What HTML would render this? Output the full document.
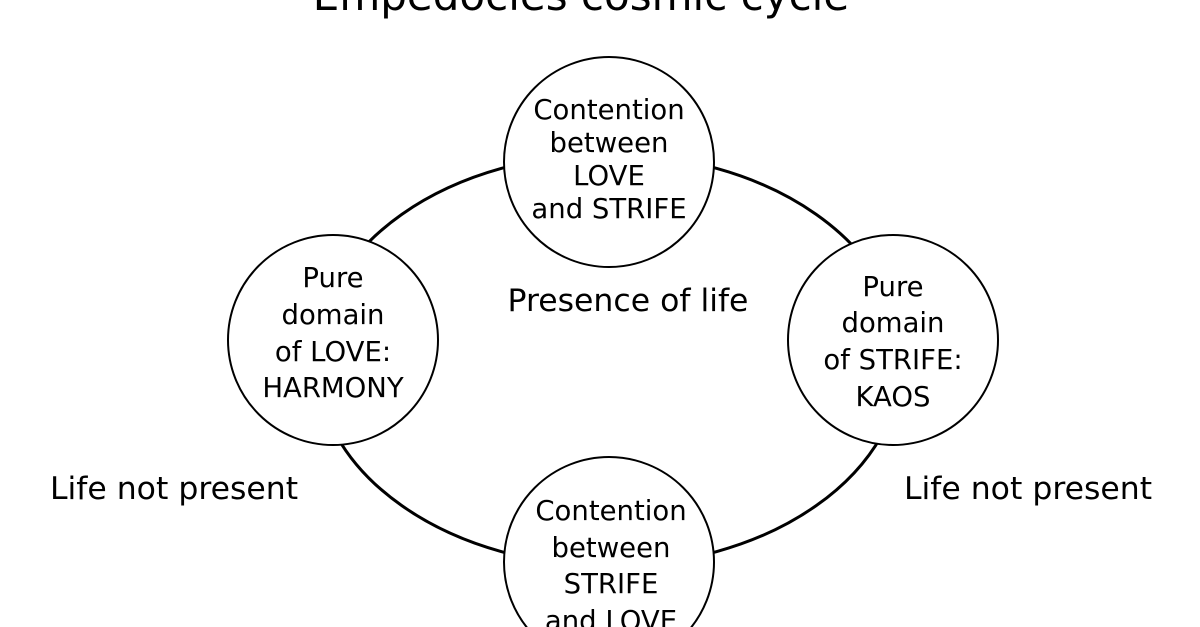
<!DOCTYPE html>
<html><head><meta charset="utf-8"><style>
html,body{margin:0;padding:0;background:#fff;width:1200px;height:627px;overflow:hidden;}
svg{display:block;}
text{font-family:"DejaVu Sans","Liberation Sans",sans-serif;fill:#000;}
</style></head><body>
<svg width="1200" height="627" viewBox="0 0 1200 627" xmlns="http://www.w3.org/2000/svg">
<text x="581" y="10" font-size="42" text-anchor="middle">Empedocles cosmic cycle</text>
<ellipse cx="609" cy="360" rx="293" ry="206" fill="none" stroke="#000" stroke-width="3"/>
<g fill="#fff" stroke="#000" stroke-width="2">
<circle cx="609" cy="162" r="105"/>
<circle cx="333" cy="340" r="105"/>
<circle cx="893" cy="340" r="105"/>
<circle cx="609" cy="562" r="105"/>
</g>
<g font-size="27.5" text-anchor="middle">
<text x="609" y="119">Contention</text>
<text x="609" y="152">between</text>
<text x="609" y="185">LOVE</text>
<text x="609" y="218">and STRIFE</text>
<text x="333" y="287">Pure</text>
<text x="333" y="324">domain</text>
<text x="333" y="361">of LOVE:</text>
<text x="333" y="397">HARMONY</text>
<text x="893" y="296">Pure</text>
<text x="893" y="332">domain</text>
<text x="893" y="369">of STRIFE:</text>
<text x="893" y="406">KAOS</text>
<text x="611" y="520">Contention</text>
<text x="611" y="557">between</text>
<text x="611" y="593">STRIFE</text>
<text x="611" y="630">and LOVE</text>
</g>
<g font-size="31.5">
<text x="628" y="311" text-anchor="middle">Presence of life</text>
<text x="174" y="499" text-anchor="middle">Life not present</text>
<text x="1028" y="499" text-anchor="middle">Life not present</text>
</g>
</svg>
</body></html>
